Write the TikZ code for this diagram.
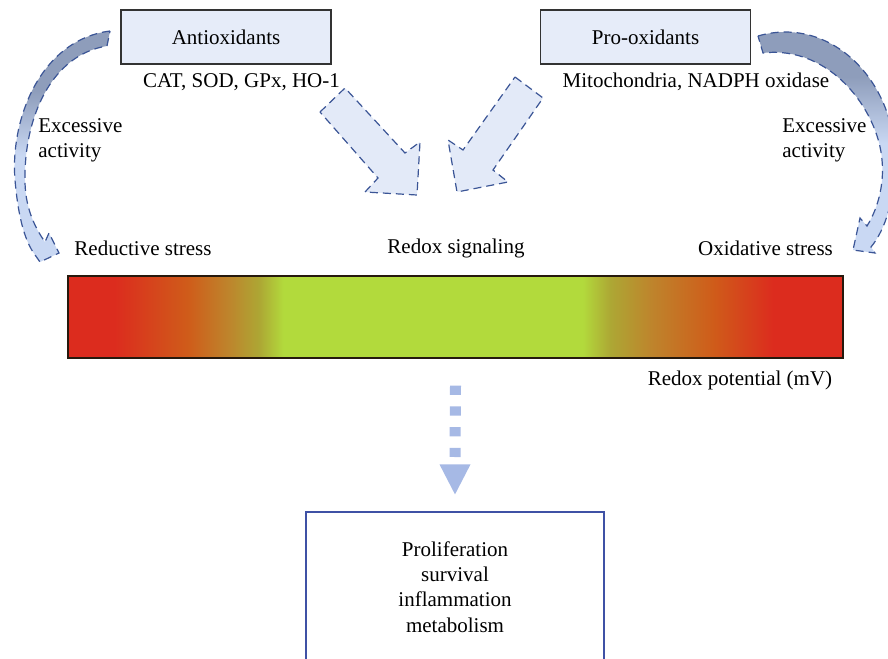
\documentclass[tikz,border=0pt]{standalone}
\usepackage{fontspec}
\setmainfont{Liberation Serif}
\usetikzlibrary{positioning}

\definecolor{boxfill}{HTML}{E6ECF9}
\definecolor{boxline}{HTML}{333333}
\definecolor{dashblue}{HTML}{3B5596}
\definecolor{arrowfill}{HTML}{E3EAF8}
\definecolor{arrowdark}{HTML}{8E9DBB}
\definecolor{arrowlight}{HTML}{C9D8F3}
\definecolor{flowblue}{HTML}{A6B9E5}
\definecolor{outline}{HTML}{3F51A5}
\definecolor{barred}{HTML}{DC2C1E}
\definecolor{barorange}{HTML}{CF5C1A}
\definecolor{barbrown}{HTML}{BE842C}
\definecolor{barolive}{HTML}{ADA734}
\definecolor{bargreen}{HTML}{B2DA3C}

\pgfdeclarehorizontalshading{redoxbar}{100bp}{color(0bp)=(barred); color(25bp)=(barred); color(28bp)=(barred);
  color(32.75bp)=(barorange); color(35.35bp)=(barbrown); color(37.35bp)=(barolive); color(38.9bp)=(bargreen);
  color(58.2bp)=(bargreen); color(60bp)=(barolive); color(62.65bp)=(barbrown); color(66.6bp)=(barorange);
  color(70.5bp)=(barred); color(75bp)=(barred); color(100bp)=(barred)}
\pgfdeclareverticalshading{bandshade}{100bp}{color(0bp)=(arrowlight); color(25bp)=(arrowlight); color(48bp)=(arrowlight);
  color(62bp)=(arrowdark); color(75bp)=(arrowdark); color(100bp)=(arrowdark)}

\begin{document}
\begin{tikzpicture}[x=0.5pt,y=-0.5pt,
    font=\fontsize{10.5}{12.7}\selectfont,
    box/.style={draw=boxline,fill=boxfill,line width=0.6pt,minimum width=105pt,minimum height=27pt,inner sep=0pt},
    note/.style={inner sep=0pt,align=center},
    blockarrow/.style={draw=dashblue,fill=arrowfill,line width=0.6pt,dash pattern=on 4pt off 2.5pt,line join=miter},
    curvearrow/.style={draw=dashblue,shading=bandshade,line width=0.6pt,dash pattern=on 4pt off 2.5pt},
    dotflow/.style={draw=flowblue,line width=5.5pt,dash pattern=on 4.6pt off 5.75pt}]
    \useasboundingbox (0,0) rectangle (888,658);

    \node[box] (anti) at (226,37) {Antioxidants};
    \node[box] (pro) at (645.5,37) {Pro-oxidants};
    \node[note] (antiex) at (241.5,82) {CAT, SOD, GPx, HO-1};
    \node[note] (proex) at (696,82) {Mitochondria, NADPH oxidase};

    \node[note,align=left,anchor=west] (leftact) at (38,140.5) {Excessive\\activity};
    \node[note,align=left,anchor=west] (rightact) at (782,140.5) {Excessive\\activity};

    \node[note] (reductive) at (143,248) {Reductive stress};
    \node[note] (signaling) at (456,248) {Redox signaling};
    \node[note] (oxidative) at (765.5,248) {Oxidative stress};

    \node[draw=black!80!brown,line width=0.7pt,shading=redoxbar,minimum width=387.5pt,minimum height=41pt,inner sep=0pt] (bar) at (455.5,317) {};
    \node[note] (potential) at (740,380) {Redox potential (mV)};

    \node[draw=outline,line width=0.6pt,fill=white,minimum width=149pt,minimum height=75pt,align=center,inner sep=0pt] (outcome) at (455,587)
        {Proliferation\\survival\\inflammation\\metabolism};

    % curved arrows
    \shadedraw[curvearrow] (110,31) .. controls (40,40) and (10,120) .. (15,180)
        .. controls (18,215) and (24,238) .. (33,252) -- (40,262) -- (59,253) -- (49,233) -- (45,242)
        .. controls (33,225) and (25,205) .. (25,180) .. controls (24,120) and (50,55) .. (107,46) -- cycle;
    \shadedraw[curvearrow] (758,36) .. controls (830,15) and (895,80) .. (895,160)
        .. controls (895,200) and (885,230) .. (871,247) -- (875,253) -- (853,250) -- (860,218) -- (867,226)
        .. controls (880,205) and (884,180) .. (882,160) .. controls (878,110) and (830,45) .. (763,53) -- cycle;

    % block arrows
    \draw[blockarrow] (320,112) -- (345,88) -- (405,153) -- (420,142) -- (417,195) -- (365,192) -- (378,178) -- cycle;
    \draw[blockarrow] (515,77) -- (543,98) -- (493,170) -- (508,182) -- (457,192) -- (448,140) -- (463,150) -- cycle;

    \draw[dotflow] ([yshift=-13.5pt]bar.south) -- ([yshift=23.5pt]outcome.north);
    \fill[flowblue] ([xshift=-7.75pt,yshift=23.5pt]outcome.north) -- ([xshift=7.75pt,yshift=23.5pt]outcome.north)
        -- ([yshift=8.5pt]outcome.north) -- cycle;
\end{tikzpicture}
\end{document}
